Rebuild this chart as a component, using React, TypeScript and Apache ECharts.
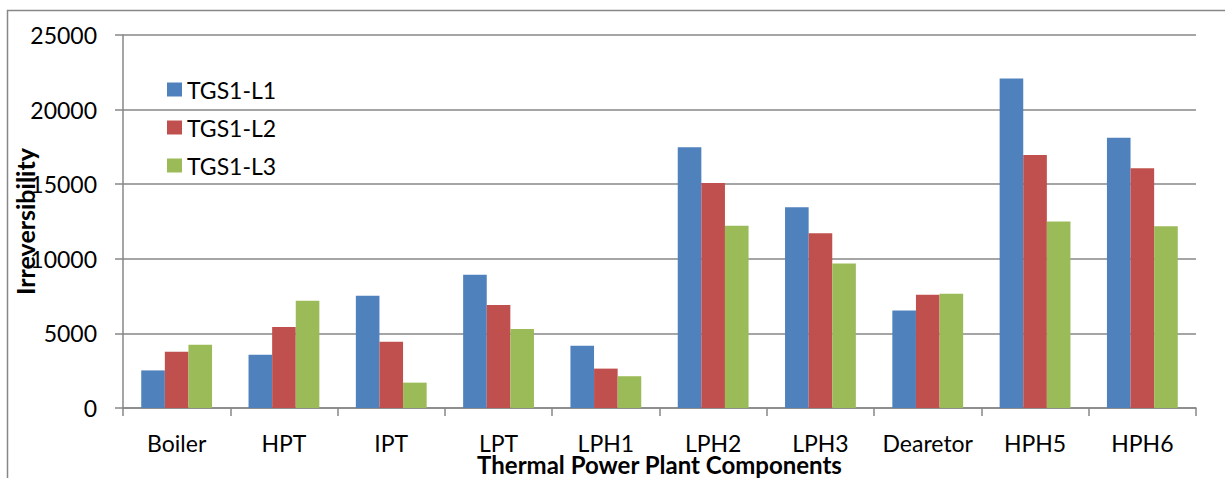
import React, { useEffect, useRef } from "react";
import * as echarts from "echarts";

const categories = ["Boiler", "HPT", "IPT", "LPT", "LPH1", "LPH2", "LPH3", "Dearetor", "HPH5", "HPH6"];
const seriesNames = ["TGS1-L1", "TGS1-L2", "TGS1-L3"];
const l1 = [2520, 3570, 7520, 8930, 4180, 17480, 13450, 6540, 22080, 18120];
const l2 = [3770, 5430, 4440, 6900, 2640, 15080, 11710, 7590, 16960, 16070];
const l3 = [4240, 7190, 1700, 5300, 2130, 12210, 9690, 7650, 12500, 12190];
const yTicks = { min: 0, max: 25000, interval: 5000 };
const colors = ["#4F81BD", "#C0504D", "#9BBB59"];

const FONT = "Lato";
const GREY = "#878787";

export default function App() {
  const ref = useRef<HTMLDivElement>(null);
  useEffect(() => {
    if (!ref.current) return;
    const chart = echarts.init(ref.current, null, { renderer: "svg" });
    const data = [l1, l2, l3];
    chart.setOption({
      animation: false,
      backgroundColor: "#ffffff",
      textStyle: { fontFamily: FONT },
      grid: { left: 123, right: 29, top: 35, bottom: 70, containLabel: false, outerBoundsMode: "none" },
      legend: {
        orient: "vertical",
        left: 162,
        top: 73,
        itemWidth: 15,
        itemHeight: 14,
        itemGap: 15,
        icon: "rect",
        data: seriesNames,
        textStyle: { fontFamily: FONT, fontSize: 23, color: "#000" },
      },
      xAxis: {
        type: "category",
        data: categories,
        name: "Thermal Power Plant Components",
        nameLocation: "middle",
        nameGap: 47,
        nameMoveOverlap: false,
        nameTextStyle: { fontFamily: FONT, fontSize: 24, fontWeight: "bold", color: "#000", lineHeight: 18 },
        axisLine: { lineStyle: { color: GREY, width: 1.5 } },
        axisTick: { show: true, length: 8, lineStyle: { color: GREY, width: 1.5 } },
        axisLabel: { fontFamily: FONT, fontSize: 23, color: "#000", margin: 26, interval: 0, lineHeight: 18 },
      },
      yAxis: {
        type: "value",
        min: yTicks.min,
        max: yTicks.max,
        interval: yTicks.interval,
        name: "Irreversibility",
        nameLocation: "middle",
        nameRotate: 90,
        nameGap: 86,
        nameMoveOverlap: false,
        nameTextStyle: { fontFamily: FONT, fontSize: 25, fontWeight: "bold", color: "#000" },
        axisLine: { show: true, lineStyle: { color: GREY, width: 1.5 } },
        axisTick: { show: true, length: 8, lineStyle: { color: GREY, width: 1.5 } },
        axisLabel: {
          fontFamily: FONT,
          fontSize: 23,
          color: "#000",
          margin: 26,
          formatter: (v: number) => String(v),
        },
        splitLine: { show: true, lineStyle: { color: GREY, width: 1.5 } },
      },
      graphic: [
        {
          type: "rect",
          shape: { x: 7.5, y: 10.5, width: 1400, height: 700 },
          style: { fill: "none", stroke: GREY, lineWidth: 1.5 },
          silent: true,
          z: -1,
        },
      ],
      series: seriesNames.map((name, i) => ({
        name,
        type: "bar",
        data: data[i],
        barGap: "0%",
        barCategoryGap: "34%",
        itemStyle: { color: colors[i] },
      })),
    });
    return () => chart.dispose();
  }, []);
  return (
    <div
      ref={ref}
      style={{ position: "fixed", left: 0, top: 0, width: 1225, height: 478 }}
    />
  );
}
